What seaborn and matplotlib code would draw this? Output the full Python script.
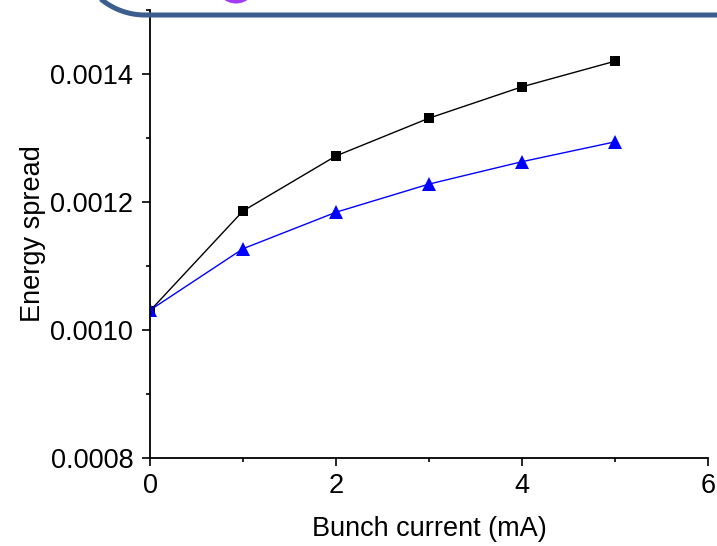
import matplotlib
matplotlib.use("Agg")
import matplotlib.pyplot as plt
from matplotlib.patches import Circle
from matplotlib.ticker import MultipleLocator
import numpy as np
import pandas as pd
import seaborn as sns

# Bunch current (mA) and the resulting energy spread for two cases
current = [0, 1, 2, 3, 4, 5]
spread_square = [0.00103, 0.001186, 0.001272, 0.001331, 0.00138, 0.00142]
spread_triangle = [0.001031, 0.001127, 0.001184, 0.001228, 0.001263, 0.001294]

x_ticks = [0, 2, 4, 6]
y_ticks = [0.0008, 0.0010, 0.0012, 0.0014]

sns.set_theme(style="ticks")
plt.rcParams["font.family"] = ["Liberation Sans", "DejaVu Sans"]

df = pd.concat([
    pd.DataFrame({"current": current, "spread": spread_square, "case": "square"}),
    pd.DataFrame({"current": current, "spread": spread_triangle, "case": "triangle"}),
])

W, H = 717, 546
fig = plt.figure(figsize=(W / 100, H / 100), dpi=100)
ax = fig.add_axes([150 / W, 88 / H, 558 / W, 448 / H])

sns.lineplot(data=df, x="current", y="spread", hue="case", style="case",
             palette={"square": "black", "triangle": "#0000ff"},
             markers={"square": "s", "triangle": "^"},
             dashes=False, linewidth=1.0, legend=False, ax=ax)
for line, ms in zip(ax.lines, (7.5, 10.5)):
    line.set_markersize(ms)
    line.set_markeredgewidth(0)

ax.set_xlim(0, 6)
ax.set_ylim(0.0008, 0.0015)
ax.set_xticks(x_ticks)
ax.set_xticklabels([str(t) for t in x_ticks])
ax.set_yticks(y_ticks)
ax.set_yticklabels([f"{t:.4f}" for t in y_ticks])
ax.xaxis.set_minor_locator(MultipleLocator(1))
ax.yaxis.set_minor_locator(MultipleLocator(0.0001))
ax.tick_params(which="major", direction="out", length=6, width=1.2,
               labelsize=19.5, colors="black")
ax.tick_params(which="minor", direction="out", length=3, width=1.2, colors="black")
ax.tick_params(axis="x", which="major", pad=5)
ax.tick_params(axis="y", which="major", pad=6)

for side in ("top", "right"):
    ax.spines[side].set_visible(False)
for side in ("left", "bottom"):
    ax.spines[side].set_linewidth(1.3)
    ax.spines[side].set_color("black")

ax.set_xlabel("Bunch current (mA)", fontsize=19.5, labelpad=12, color="black")
ax.set_ylabel("Energy spread", fontsize=19.5, labelpad=3, color="black")

# Rounded frame edge and dot across the top, drawn in pixel space
deco = fig.add_axes([0, 0, 1, 1], zorder=5)
deco.set_xlim(0, W)
deco.set_ylim(H, 0)
deco.axis("off")
r, cx, cy = 69, 145, 15 - 69
theta = np.linspace(np.pi / 2, np.pi, 60)
arc_x = cx + r * np.cos(theta)
arc_y = cy + r * np.sin(theta)
deco.plot(np.r_[arc_x[::-1], W + 10][::-1], np.r_[arc_y[::-1], 15][::-1],
          color="#3b5e8c", linewidth=3.6, solid_capstyle="butt", clip_on=False)
deco.add_patch(Circle((236, -17), 20.5, facecolor="#a23cf5", edgecolor="none"))

fig.savefig("out.png", dpi=100, facecolor="white")
